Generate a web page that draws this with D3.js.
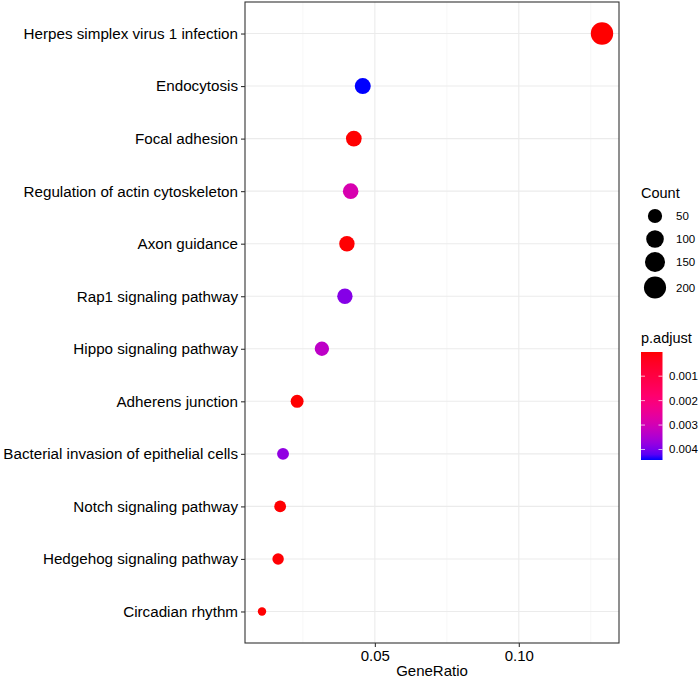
<!DOCTYPE html>
<html>
<head>
<meta charset="utf-8">
<script src="https://cdn.jsdelivr.net/npm/d3@7"></script>
<style>
  body { margin: 0; background: #fff; }
  text { font-family: "Liberation Sans", Arial, sans-serif; }
</style>
</head>
<body>
<div id="chart"></div>
<script>
// KEGG terms, top to bottom
const pathways = [
  "Herpes simplex virus 1 infection",
  "Endocytosis",
  "Focal adhesion",
  "Regulation of actin cytoskeleton",
  "Axon guidance",
  "Rap1 signaling pathway",
  "Hippo signaling pathway",
  "Adherens junction",
  "Bacterial invasion of epithelial cells",
  "Notch signaling pathway",
  "Hedgehog signaling pathway",
  "Circadian rhythm"
];
const geneRatio = [0.1289, 0.0458, 0.0427, 0.0416, 0.0403, 0.0396, 0.0316, 0.0230, 0.0181, 0.0171, 0.0164, 0.0108];
const counts = [208, 74, 69, 67, 65, 64, 51, 37, 29, 28, 26, 17];
const pAdjust = [0.00001, 0.00443, 0.00002, 0.0029, 0.00003, 0.0039, 0.0033, 0.00002, 0.0038, 0.00003, 0.00004, 0.00002];

const xTicks = [0.05, 0.10];
const xMinor = [0.025, 0.075, 0.125];
const countBreaks = [50, 100, 150, 200];
const pBreaks = [0.001, 0.002, 0.003, 0.004];

const width = 699, height = 682;
const panel = { left: 245, right: 619, top: 2, bottom: 643 };

const svg = d3.select("#chart").append("svg")
  .attr("width", width)
  .attr("height", height);

// x scale with 5% expansion like ggplot
const [gMin, gMax] = d3.extent(geneRatio);
const pad = (gMax - gMin) * 0.05;
const x = d3.scaleLinear()
  .domain([gMin - pad, gMax + pad])
  .range([panel.left, panel.right]);

const y = d3.scalePoint()
  .domain(pathways)
  .range([panel.top, panel.bottom])
  .padding(0.6);

// size: area mapping between min and max count
const [cMin, cMax] = d3.extent(counts);
const rLin = d3.scaleLinear().domain([0, 1]).range([4.2, 11.2]);
const radius = c => rLin(Math.sqrt(Math.max(0, (c - cMin) / (cMax - cMin))));

const [pMin, pMax] = d3.extent(pAdjust);
const color = d3.scaleLinear()
  .domain([pMin, pMax])
  .range(["red", "blue"])
  .interpolate(d3.interpolateHcl);

// grid lines
const grid = svg.append("g");
grid.selectAll(".minor").data(xMinor).enter().append("line")
  .attr("x1", d => x(d)).attr("x2", d => x(d))
  .attr("y1", panel.top).attr("y2", panel.bottom)
  .attr("stroke", "#f2f2f2").attr("stroke-width", 0.6);
grid.selectAll(".majorx").data(xTicks).enter().append("line")
  .attr("x1", d => x(d)).attr("x2", d => x(d))
  .attr("y1", panel.top).attr("y2", panel.bottom)
  .attr("stroke", "#ebebeb").attr("stroke-width", 1.1);
grid.selectAll(".majory").data(pathways).enter().append("line")
  .attr("x1", panel.left).attr("x2", panel.right)
  .attr("y1", d => y(d)).attr("y2", d => y(d))
  .attr("stroke", "#ebebeb").attr("stroke-width", 1.1);

// points
svg.append("g").selectAll("circle")
  .data(pathways.map((p, i) => ({ p, g: geneRatio[i], c: counts[i], a: pAdjust[i] })))
  .enter().append("circle")
    .attr("cx", d => x(d.g))
    .attr("cy", d => y(d.p))
    .attr("r", d => radius(d.c))
    .attr("fill", d => color(d.a));

// panel border
svg.append("rect")
  .attr("x", panel.left).attr("y", panel.top)
  .attr("width", panel.right - panel.left)
  .attr("height", panel.bottom - panel.top)
  .attr("fill", "none")
  .attr("stroke", "#333").attr("stroke-width", 1.1);

// axes
const xAxis = svg.append("g")
  .attr("transform", `translate(0,${panel.bottom})`)
  .call(d3.axisBottom(x).tickValues(xTicks).tickFormat(d3.format(".2f")).tickSize(4).tickPadding(3));
const yAxis = svg.append("g")
  .attr("transform", `translate(${panel.left},0)`)
  .call(d3.axisLeft(y).tickSize(4).tickPadding(3));
[xAxis, yAxis].forEach(a => {
  a.select(".domain").remove();
  a.selectAll(".tick line").attr("stroke", "#333").attr("stroke-width", 1.1);
  a.selectAll(".tick text").attr("fill", "#000");
});
xAxis.selectAll(".tick text").style("font-size", "15px");
yAxis.selectAll(".tick text").style("font-size", "15.2px");

svg.append("text")
  .attr("x", (panel.left + panel.right) / 2)
  .attr("y", 676)
  .attr("text-anchor", "middle")
  .style("font-size", "15px")
  .text("GeneRatio");

// size legend
const lg = svg.append("g");
lg.append("text").attr("x", 641).attr("y", 198).style("font-size", "14.5px").text("Count");
const legY = [216, 239, 262, 287.5];
countBreaks.forEach((b, i) => {
  lg.append("circle").attr("cx", 655).attr("cy", legY[i]).attr("r", radius(b)).attr("fill", "#000");
  lg.append("text").attr("x", 676).attr("y", legY[i] + 4).style("font-size", "11.5px").text(b);
});

// colour bar legend
const bar = { x: 641, w: 21.5, top: 352, bottom: 460 };
lg.append("text").attr("x", 641).attr("y", 343).style("font-size", "14.5px").text("p.adjust");
const defs = svg.append("defs");
const grad = defs.append("linearGradient").attr("id", "pgrad")
  .attr("x1", 0).attr("y1", 0).attr("x2", 0).attr("y2", 1);
d3.range(0, 1.0001, 0.05).forEach(t => {
  grad.append("stop").attr("offset", t)
    .attr("stop-color", color(pMin + t * (pMax - pMin)));
});
lg.append("rect")
  .attr("x", bar.x).attr("y", bar.top)
  .attr("width", bar.w).attr("height", bar.bottom - bar.top)
  .attr("fill", "url(#pgrad)");
const pScale = d3.scaleLinear().domain([pMin, pMax]).range([bar.top, bar.bottom]);
pBreaks.forEach(b => {
  const yy = pScale(b);
  lg.append("line").attr("x1", bar.x).attr("x2", bar.x + 4).attr("y1", yy).attr("y2", yy)
    .attr("stroke", "#fff").attr("stroke-opacity", 0.7);
  lg.append("line").attr("x1", bar.x + bar.w - 4).attr("x2", bar.x + bar.w).attr("y1", yy).attr("y2", yy)
    .attr("stroke", "#fff").attr("stroke-opacity", 0.7);
  lg.append("text").attr("x", 669).attr("y", yy + 4).style("font-size", "11.5px").text(d3.format(".3f")(b));
});
</script>
</body>
</html>
